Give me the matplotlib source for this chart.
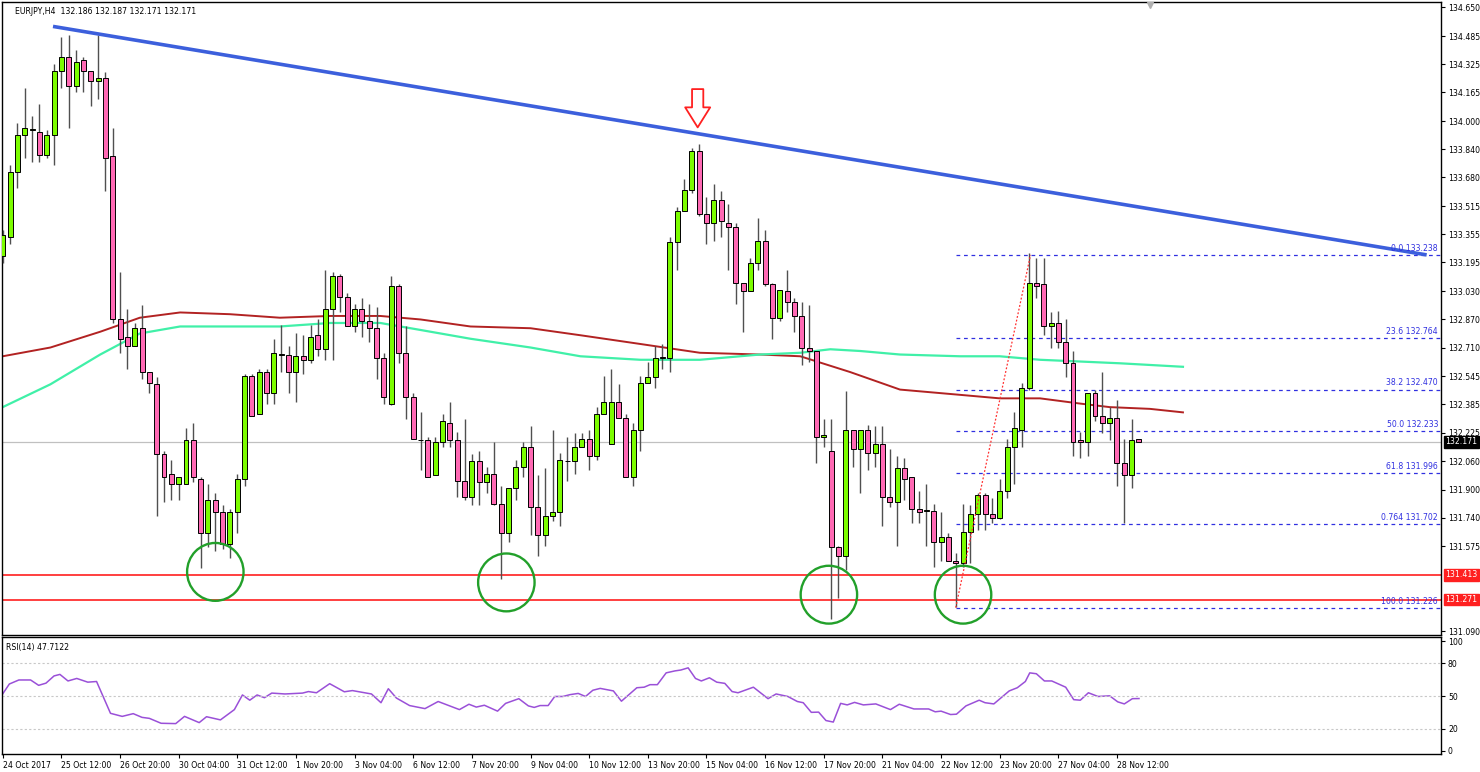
import matplotlib
matplotlib.use("Agg")
import matplotlib.pyplot as plt
from matplotlib.patches import Ellipse
import numpy as np

# ---------------- data ----------------
opens = [133.23,133.34,133.71,133.92,133.95,133.94,133.81,133.92,134.29,134.37,
         134.20,134.35,134.29,134.23,134.25,133.80,132.87,132.77,132.72,132.82,
         132.57,132.50,132.10,131.99,131.93,131.93,132.18,131.96,131.65,131.84,
         131.77,131.59,131.77,131.96,132.55,132.33,132.57,132.45,132.67,132.67,
         132.57,132.66,132.64,132.78,132.70,132.93,133.12,133.00,132.83,132.93,
         132.86,132.82,132.65,132.39,133.06,132.68,132.43,132.18,132.18,131.98,
         132.17,132.28,132.18,131.95,131.86,132.06,131.94,131.99,131.82,131.65,
         131.91,132.03,132.14,131.80,131.64,131.75,131.77,132.06,132.06,132.14,
         132.19,132.09,132.33,132.16,132.40,132.31,131.97,132.24,132.51,132.54,
         132.65,132.65,133.31,133.49,133.61,133.83,133.47,133.42,133.55,133.42,
         133.40,133.08,133.03,133.19,133.32,133.07,132.88,133.03,132.97,132.89,
         132.71,132.69,132.20,132.12,131.57,131.52,132.24,132.13,132.24,132.11,
         132.16,131.86,131.83,132.02,131.97,131.79,131.78,131.78,131.60,131.63,
         131.49,131.48,131.66,131.76,131.87,131.76,131.74,131.89,132.14,132.24,
         132.48,133.08,133.07,132.83,132.85,132.74,132.62,132.18,132.17,132.45,
         132.32,132.28,132.31,132.05,131.98,132.19]
highs = [133.38,133.75,133.99,134.19,134.03,134.10,133.95,134.33,134.48,134.49,
         134.41,134.37,134.29,134.49,134.28,133.96,133.14,132.93,132.85,132.95,
         132.57,132.54,132.12,132.07,131.97,132.25,132.28,131.97,131.93,131.88,
         131.81,131.79,131.99,132.56,132.56,132.59,132.59,132.76,132.84,132.72,
         132.79,132.78,132.84,132.87,133.15,133.14,133.13,133.02,132.96,132.99,
         132.96,132.94,132.68,133.12,133.07,132.83,132.45,132.34,132.20,132.20,
         132.33,132.40,132.23,132.30,132.10,132.12,132.03,132.17,131.92,131.91,
         132.07,132.17,132.26,131.98,132.02,132.24,132.11,132.20,132.22,132.22,
         132.24,132.37,132.55,132.59,132.50,132.33,132.28,132.55,132.63,132.72,
         132.73,133.34,133.51,133.67,133.85,133.87,133.57,133.64,133.60,133.53,
         133.42,133.08,133.22,133.45,133.38,133.08,133.04,133.15,132.99,132.97,
         132.95,132.69,132.30,132.30,131.58,132.46,132.24,132.24,132.27,132.26,
         132.26,132.13,132.09,132.08,131.97,131.89,131.93,131.82,131.77,131.65,
         131.54,131.82,131.81,131.88,131.88,131.85,131.96,132.19,132.34,132.51,
         133.25,133.22,133.22,132.91,132.92,132.87,132.69,132.23,132.45,132.47,
         132.57,132.37,132.41,132.19,132.30,132.19]
lows = [133.19,133.30,133.62,133.79,133.77,133.77,133.79,133.75,134.19,133.96,
        134.17,134.17,134.09,134.13,133.60,132.85,132.68,132.59,132.72,132.53,
        132.45,131.75,131.83,131.84,131.84,131.93,131.94,131.45,131.57,131.55,
        131.56,131.51,131.65,131.92,132.32,132.33,132.39,132.39,132.57,132.45,
        132.40,132.56,132.62,132.66,132.64,132.64,132.91,132.83,132.80,132.77,
        132.74,132.53,132.39,132.38,132.62,132.30,132.19,132.01,131.97,131.98,
        132.14,132.14,131.86,131.84,131.81,131.81,131.88,131.81,131.39,131.60,
        131.84,131.97,131.64,131.52,131.58,131.72,131.69,131.95,131.99,132.14,
        132.01,132.07,132.33,132.16,132.31,131.97,131.92,132.12,132.51,132.48,
        132.59,132.57,133.15,133.49,133.59,133.46,133.30,133.32,133.34,133.15,
        132.96,132.80,133.03,133.15,133.06,132.76,132.86,132.91,132.80,132.61,
        132.63,132.05,132.14,131.16,131.28,131.44,132.03,131.88,132.01,132.03,
        131.69,131.80,131.58,131.84,131.71,131.71,131.58,131.46,131.49,131.49,
        131.23,131.46,131.48,131.67,131.67,131.71,131.73,131.85,131.93,132.14,
        132.47,132.99,132.78,132.71,132.71,132.54,132.09,132.08,132.09,132.29,
        132.22,132.18,131.92,131.71,131.91,132.17]
closes = [133.35,133.71,133.92,133.96,133.95,133.81,133.92,134.29,134.37,134.20,
          134.34,134.29,134.23,134.25,133.79,132.87,132.76,132.72,132.82,132.57,
          132.51,132.10,131.97,131.93,131.97,132.18,131.97,131.65,131.84,131.77,
          131.59,131.77,131.96,132.55,132.32,132.57,132.45,132.68,132.67,132.57,
          132.66,132.64,132.77,132.70,132.93,133.12,133.00,132.83,132.93,132.86,
          132.82,132.65,132.43,133.06,132.68,132.43,132.19,132.18,131.97,132.17,
          132.29,132.18,131.95,131.86,132.06,131.94,131.99,131.82,131.65,131.91,
          132.03,132.14,131.80,131.64,131.75,131.77,132.07,132.06,132.14,132.19,
          132.09,132.33,132.40,132.40,132.31,131.97,132.24,132.51,132.54,132.65,
          132.65,133.31,133.49,133.61,133.83,133.47,133.42,133.55,133.43,133.40,
          133.08,133.03,133.19,133.32,133.07,132.88,133.04,132.97,132.89,132.71,
          132.69,132.20,132.21,131.57,131.52,132.24,132.13,132.24,132.11,132.16,
          131.86,131.83,132.02,131.96,131.79,131.77,131.78,131.60,131.63,131.49,
          131.48,131.66,131.76,131.87,131.76,131.74,131.89,132.14,132.25,132.48,
          133.08,133.06,132.83,132.85,132.74,132.62,132.17,132.17,132.45,132.32,
          132.28,132.31,132.05,131.98,132.18,132.17]

ma_red_idx = [0,6.5,13.3,18.7,24.2,31,37.8,44.7,51.5,57,63.8,72,78.8,87,95.1,103.3,108.8,115.6,122.4,130.6,136,141.5,147,151,156.5,161]
ma_red_val = [132.66,132.71,132.80,132.88,132.91,132.90,132.88,132.89,132.89,132.87,132.83,132.82,132.78,132.73,132.68,132.67,132.66,132.57,132.47,132.44,132.42,132.42,132.39,132.37,132.36,132.34]
ma_grn_idx = [0,6.5,13.3,18.7,24.2,31,37.8,44.7,51.5,57,63.8,72,78.8,87,95.1,103.3,108.8,112.9,117,122.4,130.6,136,141.5,147,152.4,161]
ma_grn_val = [132.37,132.50,132.67,132.79,132.83,132.83,132.83,132.85,132.85,132.81,132.76,132.71,132.66,132.64,132.64,132.67,132.68,132.70,132.69,132.67,132.66,132.66,132.64,132.63,132.62,132.60]

rsi_idx = [0,0.9,2.2,3.8,4.9,5.9,7.0,7.8,8.9,10.1,11.6,12.8,14.7,16.3,17.8,19.0,20.0,21.6,23.6,24.8,26.8,27.8,29.7,31.6,32.7,33.7,34.7,35.7,36.7,38.5,40.9,41.7,42.8,44.6,46.6,47.7,50.3,51.6,52.6,53.7,55.5,57.6,59.4,62.3,63.6,64.6,65.7,67.5,68.6,70.4,71.7,72.5,73.3,74.4,75.3,76.4,77.4,78.5,79.5,80.5,81.5,
           83.3,84.4,86.5,87.5,88.3,89.3,90.5,91.7,92.5,93.5,94.5,95.3,96.4,97.4,98.5,99.5,100.3,102.4,104.4,105.5,107.1,108.4,109.2,110.3,111.3,112.3,113.3,114.3,115.2,116.2,117.4,119.1,121.1,122.3,124.3,126.3,127.2,128.0,129.3,130.1,131.4,133.2,134.0,135.2,137.3,138.4,139.5,140.1,141.0,142.1,143.1,145.0,146.1,147.0,148.1,149.4,151.0,152.1,153.0,154.1,155.0]
rsi_val = [52,61,64.7,64.7,59.8,61.8,68.4,69.8,63.8,66.1,62.7,63.3,34.2,31.4,33.9,30.5,29.6,25.1,24.8,31.4,25.7,31.1,28.2,37.6,51.0,46.2,51.0,48.5,52.7,51.9,52.7,54.1,53.0,61.3,53.9,55.0,51.9,43.9,56.7,48.2,41.3,38.5,45.0,37.6,42.5,39.9,41.6,36.2,43.3,47.6,41.0,39.6,41.3,41.3,49.6,49.6,51.3,52.4,49.6,55.3,57.0,
           54.7,45.3,57.6,58.1,60.4,60.4,71.2,73.0,73.8,75.8,66.1,63.8,66.7,62.7,61.6,54.1,53.0,58.1,47.6,51.9,49.6,45.0,43.9,35.1,35.3,27.6,26.2,43.3,41.9,44.2,41.9,42.8,37.6,42.5,38.2,38.2,35.6,36.2,33.1,33.4,41.0,46.2,43.9,42.8,54.7,57.6,63.3,71.2,70.4,63.8,63.8,58.1,46.7,46.2,53.0,49.6,50.2,44.7,42.8,47.6,47.71]

date_labels = ["24 Oct 2017","25 Oct 12:00","26 Oct 20:00","30 Oct 04:00","31 Oct 12:00",
               "1 Nov 20:00","3 Nov 04:00","6 Nov 12:00","7 Nov 20:00","9 Nov 04:00",
               "10 Nov 12:00","13 Nov 20:00","15 Nov 04:00","16 Nov 12:00","17 Nov 20:00",
               "21 Nov 04:00","22 Nov 12:00","23 Nov 20:00","27 Nov 04:00","28 Nov 12:00"]
price_ticks = [134.650,134.485,134.325,134.165,134.000,133.840,133.680,133.515,133.355,
               133.195,133.030,132.870,132.710,132.545,132.385,132.225,132.060,131.900,
               131.740,131.575,131.090]
trend_idx = [7.1, 194.0]
trend_val = [134.54, 133.24]
support_levels = [131.413, 131.271]
current_price = 132.171
fib_prices = [133.238, 132.764, 132.470, 132.233, 131.996, 131.702, 131.226]
fib_names = ["0.0 133.238","23.6 132.764","38.2 132.470","50.0 132.233","61.8 131.996","0.764 131.702","100.0 131.226"]
fib_start_idx, fib_high_idx = 130.0, 140.2
circle_idx = [29.0, 68.7, 112.7, 131.0]
circle_val = [131.43, 131.37, 131.30, 131.30]

# ---------------- figure ----------------
W, H = 1480, 772
FS = 5.6
fig = plt.figure(figsize=(W/100, H/100), dpi=100)
fig.patch.set_facecolor("white")
ax = fig.add_axes([2/W, 1-635/H, 1439/W, 633/H])
axr = fig.add_axes([2/W, 1-754/H, 1439/W, 117/H])
XL = (-0.1, 196.2)
YL = (131.070, 134.681)

n = len(opens)
idx = np.arange(n)
o = np.array(opens); c = np.array(closes); h = np.array(highs); l = np.array(lows)
ax.vlines(idx, l, h, color="#505050", lw=1.0, zorder=3)
up = c >= o
bw = 0.68
body = np.maximum(np.abs(c - o), 0.004)
ax.bar(idx[up], body[up], bottom=o[up], width=bw, color="#7CFC00", edgecolor="black", lw=0.7, zorder=4)
ax.bar(idx[~up], body[~up], bottom=c[~up], width=bw, color="#FF69B4", edgecolor="black", lw=0.7, zorder=4)

ax.plot(ma_red_idx, ma_red_val, color="#B22222", lw=1.4, zorder=2)
ax.plot(ma_grn_idx, ma_grn_val, color="#40F0A8", lw=1.6, zorder=2)
ax.plot(trend_idx, trend_val, color="#3C5FDC", lw=2.6, zorder=5)

for s in support_levels:
    ax.axhline(s, color="#FF3030", lw=1.3, zorder=2)
ax.axhline(current_price, color="#C0C0C0", lw=0.9, zorder=1)

for name, p in zip(fib_names, fib_prices):
    ax.plot([fib_start_idx, XL[1]], [p, p], color="#3030E0", lw=0.9, ls=(0, (3, 3)), zorder=2)
    ax.text(XL[1] - 0.4, p + 0.012, name, color="#3030E0", fontsize=FS, ha="right", va="bottom", zorder=6)
ax.plot([fib_start_idx, fib_high_idx], [fib_prices[-1], fib_prices[0]], color="#FF3030", lw=0.9, ls=(0, (1.5, 1.5)), zorder=6)

for ci, cv in zip(circle_idx, circle_val):
    ax.add_patch(Ellipse((ci, cv), 7.7, 0.33, fill=False, ec="#22A02A", lw=1.7, zorder=7))

ax.annotate("", xy=(94.8, 133.95), xytext=(94.8, 134.20),
            arrowprops=dict(arrowstyle="simple,head_length=0.8,head_width=1.0,tail_width=0.45",
                            fc="white", ec="#FF2020", lw=1.3, mutation_scale=18), zorder=8)
ax.plot([156.5], [134.665], marker="v", color="#B0B0B0", ms=5, zorder=8)

ax.set_xlim(*XL); ax.set_ylim(*YL)
ax.yaxis.tick_right()
ax.set_yticks(price_ticks)
ax.set_yticklabels([f"{p:.3f}" for p in price_ticks], fontsize=FS)
ax.tick_params(axis="y", length=3, pad=2, width=0.8)
ax.set_xticks([])
for sp in ax.spines.values():
    sp.set_linewidth(1.0)

def rbox(a, y, txt, fc):
    a.text(1.003, y, txt, transform=a.get_yaxis_transform(), fontsize=FS, color="white",
           va="center", ha="left",
           bbox=dict(boxstyle="square,pad=0.15", fc=fc, ec=fc), zorder=10, clip_on=False)
rbox(ax, support_levels[0], "131.413", "#FF2020")
rbox(ax, support_levels[1], "131.271", "#FF2020")
rbox(ax, current_price, "132.171", "black")

ax.text(0.009, 0.992, "EURJPY,H4  132.186 132.187 132.171 132.171", transform=ax.transAxes,
        fontsize=FS, va="top", ha="left")

# RSI
axr.plot(rsi_idx, rsi_val, color="#9A50D8", lw=1.1)
for lv in (80, 50, 20):
    axr.axhline(lv, color="#C8C8C8", lw=0.8, ls=(0, (2, 2)))
axr.set_xlim(*XL); axr.set_ylim(-3, 104)
axr.yaxis.tick_right()
axr.set_yticks([100, 80, 50, 20, 0])
axr.set_yticklabels(["100", "80", "50", "20", "0"], fontsize=FS)
axr.tick_params(axis="y", length=3, pad=2)
tick_idx = np.arange(len(date_labels)) * 8
axr.set_xticks(tick_idx)
axr.set_xticklabels(date_labels, fontsize=FS, ha="left")
axr.tick_params(axis="x", length=3, pad=2, direction="out")
axr.text(0.003, 0.95, "RSI(14) 47.7122", transform=axr.transAxes, fontsize=FS, va="top", ha="left")
for sp in axr.spines.values():
    sp.set_linewidth(1.0)

fig.savefig("out.png", dpi=100, facecolor="white")
